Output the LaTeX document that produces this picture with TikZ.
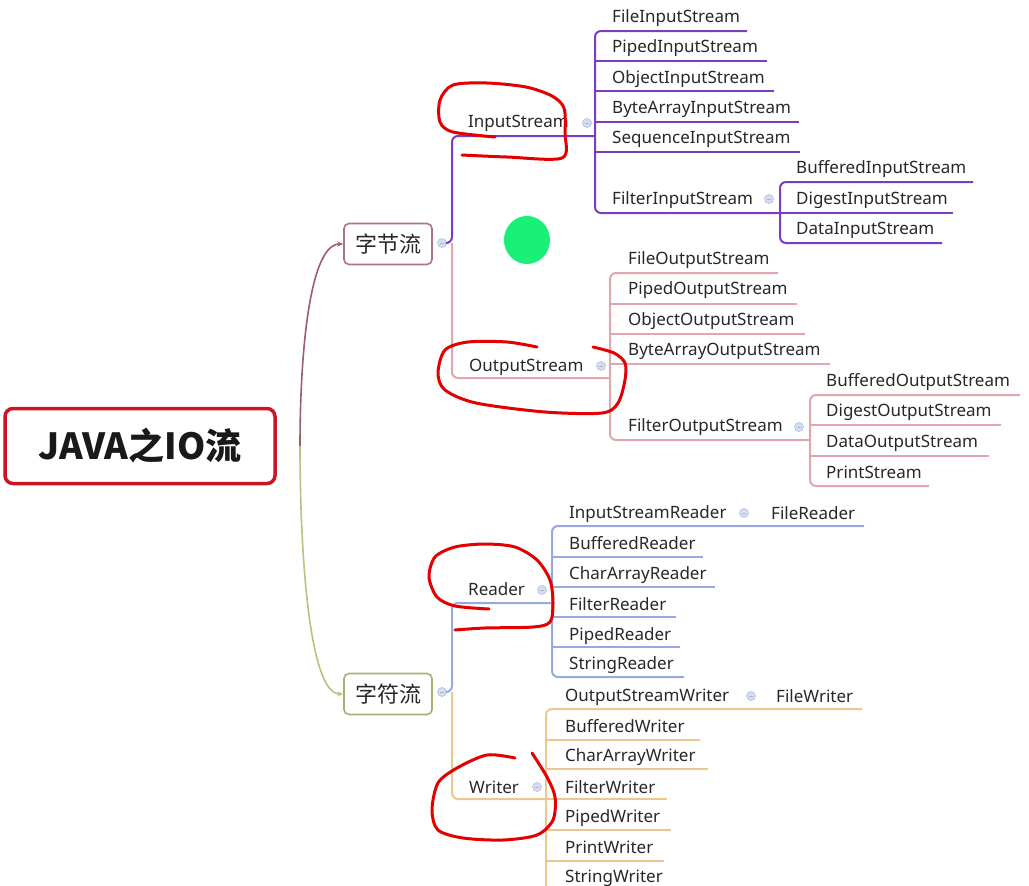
\documentclass[tikz,border=0pt]{standalone}
\usepackage{fontspec}
\setmainfont{Noto Sans}
\newfontfamily\cjk{Noto Sans CJK SC}
\usetikzlibrary{arrows.meta}
\definecolor{txt}{RGB}{40,40,40}
\definecolor{pur}{RGB}{122,62,188}
\definecolor{pnk}{RGB}{228,165,172}
\definecolor{blu}{RGB}{150,170,225}
\definecolor{tanc}{RGB}{236,200,140}
\definecolor{brn}{RGB}{155,95,105}
\definecolor{olv}{RGB}{185,195,130}
\definecolor{rootred}{RGB}{205,20,35}
\definecolor{penred}{RGB}{228,0,0}
\definecolor{dotgreen}{RGB}{25,240,120}
\definecolor{togf}{RGB}{212,222,240}
\definecolor{togd}{RGB}{175,192,226}
\begin{document}
\begin{tikzpicture}[x=1pt,y=-1pt,
  lbl/.style={anchor=base west, inner sep=0pt, text=txt, font=\fontsize{17}{19}\selectfont},
  br/.style={line width=2pt, rounded corners=6pt},
  ln/.style={line width=2pt},
  tog/.style={circle, minimum size=9pt, inner sep=0pt, fill=togf, draw=togd, line width=0.6pt,
    path picture={\draw[togd!70!black!60, line width=0.7pt] ([xshift=2.2pt]path picture bounding box.west) -- ([xshift=-2.2pt]path picture bounding box.east);}},
  catbox/.style={rounded corners=5pt, line width=1.6pt, minimum width=88pt, minimum height=41pt, inner sep=0pt, text=txt, font=\cjk\fontsize{22}{24}\selectfont},
  redpen/.style={draw=penred, line width=3pt, line cap=round, line join=round},
  tip/.style={-{Stealth[length=6pt,width=5pt]}}]
\useasboundingbox (0,0) rectangle (1029,886);
\fill[white] (0,0) rectangle (1029,886);

% root and categories
\node[draw=rootred, line width=3.5pt, rounded corners=8pt, minimum width=270pt, minimum height=75pt, inner sep=0pt, text=black!90, font=\cjk\bfseries\fontsize{36}{40}\selectfont] (root) at (140,446) {JAVA之IO流};
\node[catbox, draw=brn!85] (byte) at (388,244) {字节流};
\node[catbox, draw=olv!90!black] (char) at (388,694) {字符流};
\coordinate (rj) at (300,446);
\draw[brn, line width=1.6pt, tip] (rj) .. controls (300,350) and (310,244) .. (byte.west);
\draw[olv, line width=1.6pt, tip] (rj) .. controls (300,560) and (310,694) .. (char.west);

% toggles
\node[tog] (tb) at (442,243) {};
\node[tog] (tc) at (442,692) {};
\node[tog] (tis) at (587,123) {};
\node[tog] (tos) at (601,366) {};
\node[tog] (tfis) at (769,199) {};
\node[tog] (tfos) at (799,427) {};
\node[tog] (trd) at (542,590) {};
\node[tog] (tisr) at (744,513) {};
\node[tog] (twr) at (537,787) {};
\node[tog] (tosw) at (751,696) {};

% ---------- InputStream (purple)
\draw[pur, br] (tb.east) -- (452,243) -- (452,136) -- (595,136);
\draw[pur, br] (747,31) -- (595,31) -- (595,213) -- (780,213);
\draw[pur, ln] (595,61) -- (767,61);
\draw[pur, ln] (595,91) -- (774,91);
\draw[pur, ln] (595,122) -- (799,122);
\draw[pur, ln] (595,152) -- (800,152);
\draw[pur, br] (973,182) -- (780,182) -- (780,243) -- (942,243);
\draw[pur, ln] (780,213) -- (953,213);
\node[lbl] (is) at (468,127) {InputStream};
\node[lbl] (fis) at (612,22) {FileInputStream};
\node[lbl] (pis) at (612,52) {PipedInputStream};
\node[lbl] (ois) at (612,83) {ObjectInputStream};
\node[lbl] (bais) at (612,113) {ByteArrayInputStream};
\node[lbl] (sis) at (612,143) {SequenceInputStream};
\node[lbl] (filis) at (612,204) {FilterInputStream};
\node[lbl] (bis) at (796,173) {BufferedInputStream};
\node[lbl] (dis) at (796,204) {DigestInputStream};
\node[lbl] (datis) at (796,234) {DataInputStream};

% ---------- OutputStream (pink)
\draw[pnk, br] (452,243) -- (452,378) -- (610,378);
\draw[pnk, br] (778,273) -- (610,273) -- (610,440) -- (810,440);
\draw[pnk, ln] (610,304) -- (797,304);
\draw[pnk, ln] (610,334) -- (805,334);
\draw[pnk, ln] (610,364) -- (830,364);
\draw[pnk, br] (1020,395) -- (810,395) -- (810,486) -- (929,486);
\draw[pnk, ln] (810,425) -- (1001,425);
\draw[pnk, ln] (810,456) -- (989,456);
\node[lbl] (os) at (469,371) {OutputStream};
\node[lbl] (fos) at (628,264) {FileOutputStream};
\node[lbl] (pos) at (628,294) {PipedOutputStream};
\node[lbl] (oos) at (628,325) {ObjectOutputStream};
\node[lbl] (baos) at (628,355) {ByteArrayOutputStream};
\node[lbl] (filos) at (628,431) {FilterOutputStream};
\node[lbl] (bos) at (826,386) {BufferedOutputStream};
\node[lbl] (dos) at (826,416) {DigestOutputStream};
\node[lbl] (datos) at (826,447) {DataOutputStream};
\node[lbl] (ps) at (826,478) {PrintStream};

% ---------- Reader (blue)
\draw[blu, br] (tc.east) -- (452,692) -- (452,603) -- (552,603);
\draw[blu, br] (864,526) -- (552,526) -- (552,677) -- (684,677);
\draw[blu, ln] (552,557) -- (703,557);
\draw[blu, ln] (552,587) -- (715,587);
\draw[blu, ln] (552,617) -- (676,617);
\draw[blu, ln] (552,647) -- (680,647);
\node[lbl] (rd) at (468,595) {Reader};
\node[lbl] (isr) at (569,518) {InputStreamReader};
\node[lbl] (fr) at (771,519) {FileReader};
\node[lbl] (brd) at (569,549) {BufferedReader};
\node[lbl] (card) at (569,579) {CharArrayReader};
\node[lbl] (frd) at (569,610) {FilterReader};
\node[lbl] (prd) at (569,640) {PipedReader};
\node[lbl] (srd) at (569,669) {StringReader};

% ---------- Writer (tan)
\draw[tanc, br] (452,692) -- (452,799) -- (546,799);
\draw[tanc, br] (862,709) -- (546,709) -- (546,890);
\draw[tanc, ln] (546,740) -- (700,740);
\draw[tanc, ln] (546,769) -- (708,769);
\draw[tanc, ln] (546,799) -- (667,799);
\draw[tanc, ln] (546,830) -- (671,830);
\draw[tanc, ln] (546,861) -- (664,861);
\node[lbl] (wr) at (469,793) {Writer};
\node[lbl] (osw) at (565,701) {OutputStreamWriter};
\node[lbl] (fw) at (776,702) {FileWriter};
\node[lbl] (bw) at (565,732) {BufferedWriter};
\node[lbl] (caw) at (565,761) {CharArrayWriter};
\node[lbl] (fiw) at (565,793) {FilterWriter};
\node[lbl] (pw) at (565,822) {PipedWriter};
\node[lbl] (prw) at (565,853) {PrintWriter};
\node[lbl] (sw) at (565,882) {StringWriter};

% ---------- annotations
\fill[dotgreen] (527,240) ellipse (23 and 24);
\draw[redpen] plot[smooth] coordinates {(462,155) (507,157) (562,158) (565,133) (564,108) (552,96) (526,87) (487,83) (453,85) (440,100) (440,122) (453,132) (495,137)};
\draw[redpen] plot[smooth] coordinates {(537,347) (507,342) (468,342) (445,350) (438,373) (445,390) (476,403) (545,412) (602,413) (618,403) (625,380) (625,363) (614,353) (593,347)};
\draw[redpen] plot[smooth] coordinates {(489,609) (455,606) (437,597) (429,577) (435,557) (455,547) (485,544) (515,547) (537,560) (550,580) (553,603) (550,622) (533,627) (485,628) (455,630)};
\draw[redpen] plot[smooth] coordinates {(515,758) (487,755) (457,768) (438,783) (432,810) (438,830) (463,838) (503,840) (537,835) (553,820) (555,797) (547,777) (532,753)};
\end{tikzpicture}
\end{document}
